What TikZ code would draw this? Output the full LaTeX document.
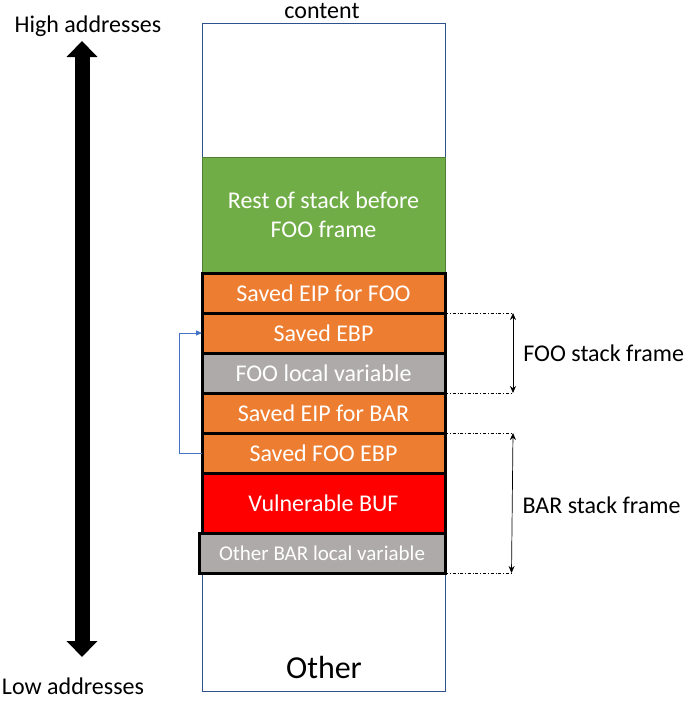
\documentclass[tikz,border=0pt]{standalone}
\usepackage{fontspec}
\setmainfont{Carlito}
\usetikzlibrary{positioning,arrows.meta}
\definecolor{slotorange}{HTML}{ED7D31}
\definecolor{slotgreen}{HTML}{70AD47}
\definecolor{greenedge}{HTML}{507E32}
\definecolor{slotgray}{HTML}{AEAAAA}
\definecolor{frameblue}{HTML}{2F528F}
\definecolor{linkblue}{HTML}{4472C4}

\begin{document}
\begin{tikzpicture}[x=1pt, y=-1pt,
  slot/.style={draw=black, line width=3pt, outer sep=0pt, inner sep=0pt,
    minimum width=243pt, minimum height=40pt, text=white,
    font=\fontsize{24}{29}\selectfont},
  label/.style={font=\fontsize{24}{29}\selectfont},
  framemark/.style={line width=0.6pt, dash dot},
  span/.style={line width=0.7pt, {Stealth[length=7pt,width=6pt]}-{Stealth[length=7pt,width=6pt]}}]
\useasboundingbox (0,0) rectangle (687,704);
% the whole stack
\draw[frameblue, line width=1pt] (202,23) rectangle (445,691);
\node[label] (content) at (322,11) {content};
\node[font=\fontsize{32}{38}\selectfont] (other) at (324,667) {Other};
% slots
\node[draw=greenedge, line width=1pt, fill=slotgreen, outer sep=0pt,
  minimum width=243pt, minimum height=116pt, text=white, align=center,
  font=\fontsize{24}{29}\selectfont] (rest) at (323.5,215) {Rest of stack before\\FOO frame};
\node[slot, fill=slotorange, below=0pt of rest] (eipfoo) {Saved EIP for FOO};
\node[slot, fill=slotorange, below=0pt of eipfoo] (ebp) {Saved EBP};
\node[slot, fill=slotgray, below=0pt of ebp] (foovar) {FOO local variable};
\node[slot, fill=slotorange, below=0pt of foovar] (eipbar) {Saved EIP for BAR};
\node[slot, fill=slotorange, below=0pt of eipbar] (fooebp) {Saved FOO EBP};
\node[slot, fill=red, minimum height=60pt, below=0pt of fooebp] (buf) {Vulnerable BUF};
\node[slot, fill=slotgray, minimum width=246pt, font=\fontsize{21}{25}\selectfont,
  below=0pt of buf, xshift=-1.5pt] (barvar) {Other BAR local variable};
% saved ebp points back
\draw[linkblue, line width=0.8pt, -{Triangle[length=6pt,width=5pt]}]
  (fooebp.west) -- ++(-23,0) |- (ebp.west);
% frame markers
\coordinate (footop) at ([xshift=68pt]ebp.north east);
\coordinate (foobot) at ([xshift=68pt]foovar.south east);
\coordinate (bartop) at ([xshift=68pt]fooebp.north east);
\coordinate (barbot) at ([xshift=66.5pt]barvar.south east);
\draw[framemark] (ebp.north east) -- (footop);
\draw[framemark] (foovar.south east) -- (foobot);
\draw[framemark] (fooebp.north east) -- (bartop);
\draw[framemark] (barvar.south east) -- (barbot);
\draw[span] (footop) -- (foobot) node[midway, right=10pt, label, inner sep=0pt] (fooframe) {FOO stack frame};
\draw[span] (bartop) -- (barbot) node[midway, right=10pt, label, inner sep=0pt, yshift=-2pt] (barframe) {BAR stack frame};
% address direction
\node[label] (high) at (88,26) {High addresses};
\node[label] (low) at (73,686) {Low addresses};
\coordinate (hightip) at (82,41);
\coordinate (lowtip) at (82,657);
\draw[line width=15pt, {Triangle[length=16pt,width=30pt]}-{Triangle[length=16pt,width=30pt]}]
  (hightip) -- (lowtip);
\end{tikzpicture}
\end{document}
